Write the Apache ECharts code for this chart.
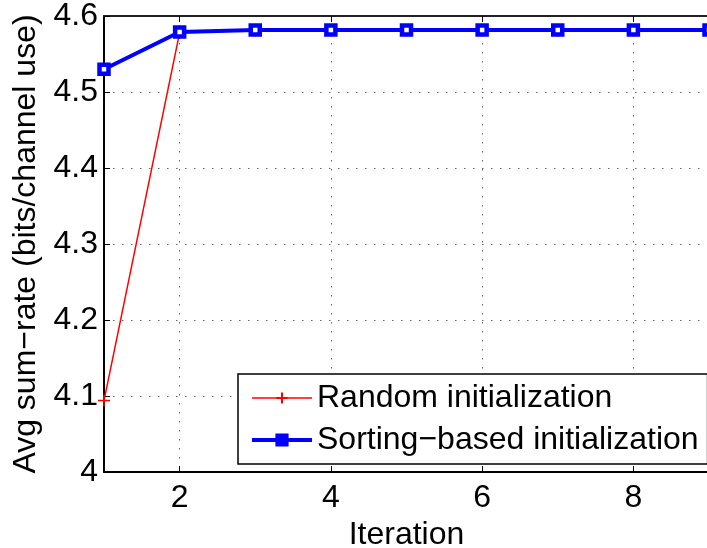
<!DOCTYPE html>
<html>
<head>
<meta charset="utf-8">
<script src="https://cdn.jsdelivr.net/npm/echarts@6/dist/echarts.min.js"></script>
<style>
html,body{margin:0;padding:0;background:#fff;}
#chart{width:707px;height:548px;}
</style>
</head>
<body>
<div id="chart"></div>
<script>
var iterations = [1, 2, 3, 4, 5, 6, 7, 8, 9];
var randomInit = [4.094, 4.578, 4.581, 4.581, 4.581, 4.581, 4.581, 4.581, 4.581];
var sortingInit = [4.530, 4.579, 4.5815, 4.5815, 4.5815, 4.5815, 4.5815, 4.5815, 4.5815];
var seriesNames = ['Random initialization', 'Sorting\u2212based initialization'];
var xAxisTitle = 'Iteration';
var yAxisTitle = 'Avg sum\u2212rate (bits/channel use)';

function pairs(xs, ys) { return xs.map(function (x, i) { return [x, ys[i]]; }); }

var FONT = 'Liberation Sans, Arial, Helvetica, sans-serif';
var FS = 32;
var gridLine = { show: true, lineStyle: { color: '#666', width: 1, type: [1.5, 7.5] } };
var plusPath = 'path://M0,6 L12,6 M6,0 L6,12';

var chart = echarts.init(document.getElementById('chart'), null, { renderer: 'canvas' });
chart.setOption({
  animation: false,
  backgroundColor: '#fff',
  textStyle: { fontFamily: FONT },
  grid: { left: 104, top: 16, bottom: 76, right: -2, containLabel: false, outerBoundsMode: 'none' },
  legend: {
    orient: 'vertical',
    left: 238, top: 374,
    padding: [8, 9, 8, 12],
    itemGap: 10,
    itemWidth: 60, itemHeight: 14,
    borderColor: '#000', borderWidth: 1.5,
    backgroundColor: '#fff',
    textStyle: { fontSize: FS, fontFamily: FONT, color: '#000', lineHeight: 32 },
    data: [{
      name: seriesNames[0],
      lineStyle: { width: 1.5, color: '#ff0000' }
    }, {
      name: seriesNames[1],
      lineStyle: { width: 4, color: '#0000ff' },
      itemStyle: { color: '#0000ff', borderColor: '#0000ff' }
    }]
  },
  xAxis: [{
    type: 'value', min: 1, max: 9, splitNumber: 4,
    name: xAxisTitle, nameLocation: 'middle', nameGap: 35,
    nameTextStyle: { fontSize: FS, color: '#000', fontFamily: FONT },
    axisLine: { show: true, onZero: false, lineStyle: { color: '#000', width: 2 } },
    axisTick: { show: true, inside: true, length: 6, lineStyle: { color: '#000', width: 1 } },
    axisLabel: { fontSize: FS, color: '#000', margin: 10, showMinLabel: false, showMaxLabel: false, fontFamily: FONT },
    splitLine: gridLine
  }, {
    type: 'value', min: 1, max: 9, splitNumber: 4, position: 'top',
    axisLine: { show: true, onZero: false, lineStyle: { color: '#222', width: 2 } },
    axisTick: { show: true, inside: true, length: 6, lineStyle: { color: '#000', width: 1 } },
    axisLabel: { show: false },
    splitLine: { show: false }
  }],
  yAxis: [{
    type: 'value', min: 4, max: 4.6, interval: 0.1,
    name: yAxisTitle, nameLocation: 'middle', nameGap: 57, nameRotate: 90,
    nameTextStyle: { fontSize: FS, color: '#000', fontFamily: FONT },
    axisLine: { show: true, onZero: false, lineStyle: { color: '#000', width: 2 } },
    axisTick: { show: true, inside: true, length: 6, lineStyle: { color: '#000', width: 1 } },
    axisLabel: { fontSize: FS, color: '#000', margin: 6, fontFamily: FONT },
    splitLine: gridLine
  }],
  series: [{
    name: seriesNames[0],
    type: 'line',
    data: pairs(iterations, randomInit),
    symbol: plusPath,
    symbolSize: 12,
    showAllSymbol: true,
    lineStyle: { color: '#ff0000', width: 1.5 },
    itemStyle: { color: 'rgba(0,0,0,0)', borderColor: '#ff0000', borderWidth: 1.5 },
    z: 2
  }, {
    name: seriesNames[1],
    type: 'line',
    data: pairs(iterations, sortingInit),
    symbol: 'rect',
    symbolSize: 9,
    showAllSymbol: true,
    lineStyle: { color: '#0000ff', width: 4 },
    itemStyle: { color: '#ffffff', borderColor: '#0000ff', borderWidth: 4.5 },
    z: 3
  }]
});
</script>
</body>
</html>
